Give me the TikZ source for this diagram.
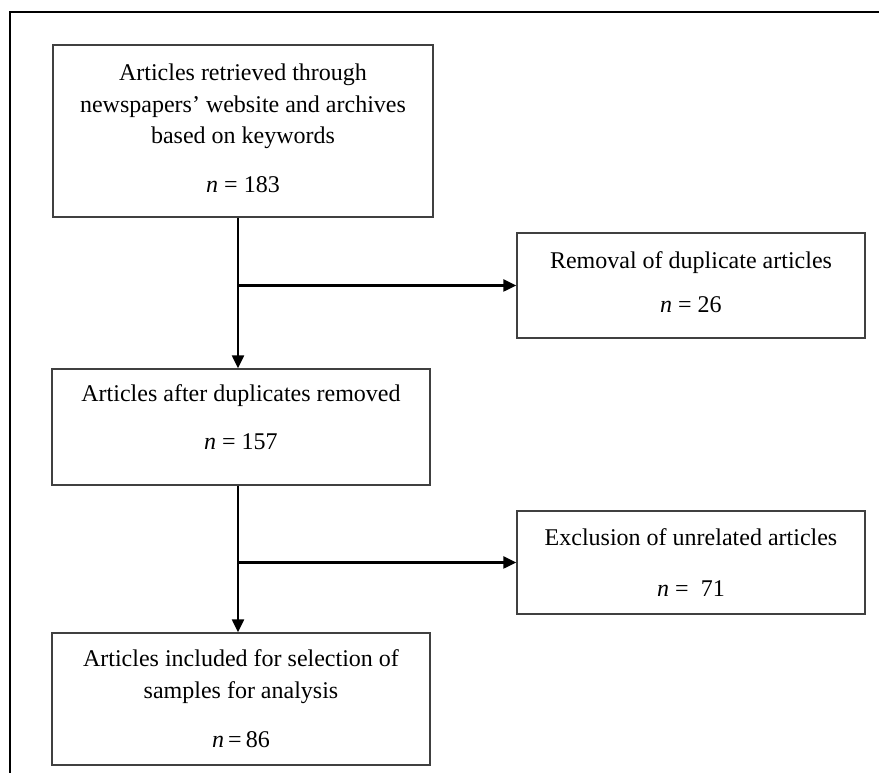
\documentclass[tikz,border=0pt]{standalone}
\usepackage{fontspec}
\setmainfont{Liberation Serif}
\usetikzlibrary{arrows.meta}
\begin{document}
\begin{tikzpicture}[x=1pt,y=1pt,
  box/.style={draw=black!75, line width=1.3pt, align=center, inner sep=0pt,
    font=\fontsize{24}{31.5}\selectfont},
  arr/.style={line width=2.2pt, -{Triangle[length=13pt,width=12pt]}},
  frame/.style={line width=2.2pt}]
\useasboundingbox (0,0) rectangle (879,773);
\draw[frame] (10,0) -- (10,761) -- (879,761);
\node[box, minimum width=380pt, minimum height=172pt] (b1) at (243,642)
  {Articles retrieved through\\newspapers’ website and archives\\based on keywords\\[17pt]\textit{n} = 183\\[-26pt]};
\node[box, minimum width=348pt, minimum height=105pt] (b2) at (691,487.5)
  {Removal of duplicate articles\\[13pt]\textit{n} = 26\\[-25pt]};
\node[box, minimum width=378pt, minimum height=116pt] (b3) at (241,346)
  {Articles after duplicates removed\\[17pt]\textit{n} = 157\\[-11.5pt]};
\node[box, minimum width=348pt, minimum height=103pt] (b4) at (691,210.5)
  {Exclusion of unrelated articles\\[20pt]\textit{n} =\ \ 71};
\node[box, minimum width=378pt, minimum height=132pt] (b5) at (241,74)
  {Articles included for selection of\\samples for analysis\\[18pt]\textit{n}\,=\,86};
\coordinate (sp) at (238,0);
\draw[arr] (b1.south -| sp) -- (b3.north -| sp);
\draw[arr] (b2.west -| sp) -- (b2.west);
\draw[arr] (b3.south -| sp) -- (b5.north -| sp);
\draw[arr] (b4.west -| sp) -- (b4.west);
\end{tikzpicture}
\end{document}
